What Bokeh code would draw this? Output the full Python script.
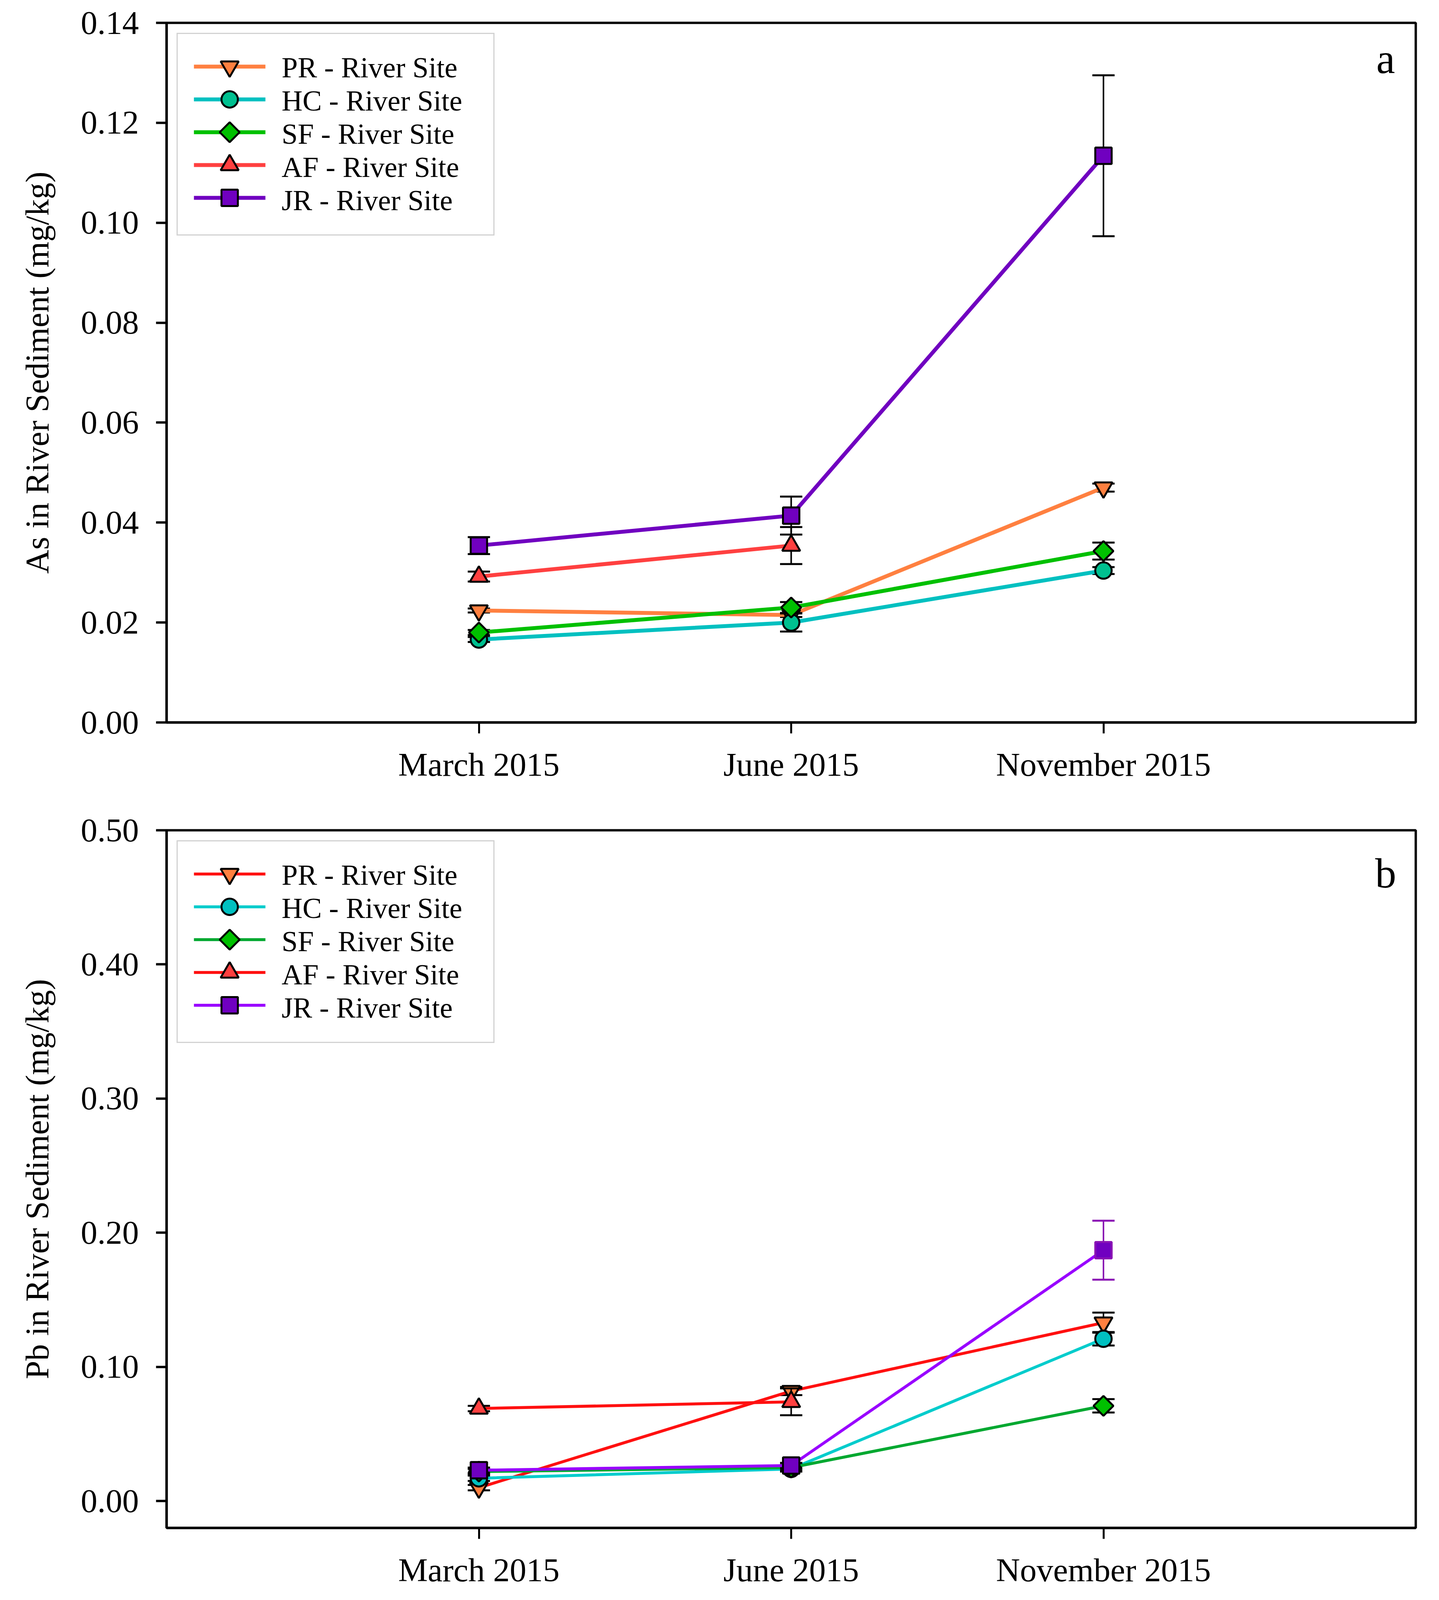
import math
from bokeh.plotting import figure
from bokeh.models import (Range1d, FixedTicker, PrintfTickFormatter, Label,
                          Legend, LegendItem, ColumnDataSource)
from bokeh.layouts import column
from bokeh.embed import file_html
from bokeh.resources import INLINE

# ---------------- data ----------------
dates = ["March 2015", "June 2015", "November 2015"]
date_pos = [1, 2, 3]
site_labels = ["PR - River Site", "HC - River Site", "SF - River Site",
               "AF - River Site", "JR - River Site"]

# As in river sediment (mg/kg), mean and error
as_pr = [0.0224, 0.0215, 0.0470]
as_pr_err = [0.0004, 0.0004, 0.0008]
as_hc = [0.0166, 0.0200, 0.0304]
as_hc_err = [0.0005, 0.0018, 0.0007]
as_sf = [0.0180, 0.0230, 0.0343]
as_sf_err = [0.0005, 0.0011, 0.0017]
as_af = [0.0292, 0.0354]
as_af_err = [0.0010, 0.0037]
as_jr = [0.0354, 0.0414, 0.1134]
as_jr_err = [0.0017, 0.0038, 0.0161]

# Pb in river sediment (mg/kg), mean and error
pb_pr = [0.010, 0.082, 0.133]
pb_pr_err = [0.002, 0.003, 0.0075]
pb_hc = [0.017, 0.024, 0.121]
pb_hc_err = [0.002, 0.002, 0.005]
pb_sf = [0.022, 0.025, 0.071]
pb_sf_err = [0.002, 0.002, 0.005]
pb_af = [0.069, 0.074]
pb_af_err = [0.002, 0.010]
pb_jr = [0.023, 0.0265, 0.187]
pb_jr_err = [0.002, 0.002, 0.022]

as_ticks = [0.00, 0.02, 0.04, 0.06, 0.08, 0.10, 0.12, 0.14]
pb_ticks = [0.00, 0.10, 0.20, 0.30, 0.40, 0.50]

FONT = "Liberation Serif"
FRAME_W = 3198

# legend geometry (screen px)
LEG_MARGIN = 26
LEG_PAD = 44
LEG_ROW = 84
LEG_GLYPH_W = 183


def make_panel(series, y_lo, y_hi, ticks, frame_h, b_top, b_bottom, ylabel,
               letter, letter_dy, line_w):
    p = figure(frame_width=FRAME_W, frame_height=frame_h,
               x_range=Range1d(0, 4), y_range=Range1d(y_lo, y_hi),
               output_backend="svg", toolbar_location=None,
               min_border_left=426, min_border_right=44,
               min_border_top=b_top, min_border_bottom=b_bottom,
               background_fill_color="white", border_fill_color="white")
    p.xgrid.visible = False
    p.ygrid.visible = False
    p.outline_line_color = "black"
    p.outline_line_width = 6
    p.outline_line_alpha = 1

    # x axis
    p.xaxis.ticker = FixedTicker(ticks=date_pos)
    p.xaxis.major_label_overrides = {pos: d for pos, d in zip(date_pos, dates)}
    p.xaxis.axis_line_width = 6
    p.xaxis.major_tick_line_width = 5
    p.xaxis.major_tick_out = 28
    p.xaxis.major_tick_in = 0
    p.xaxis.minor_tick_line_color = None
    p.xaxis.major_label_text_font = FONT
    p.xaxis.major_label_text_font_size = "85px"
    p.xaxis.major_label_text_color = "black"
    p.xaxis.major_label_standoff = 32

    # y axis
    p.yaxis.ticker = FixedTicker(ticks=ticks)
    p.yaxis.formatter = PrintfTickFormatter(format="%.2f")
    p.yaxis.axis_line_width = 6
    p.yaxis.major_tick_line_width = 6
    p.yaxis.major_tick_out = 27
    p.yaxis.major_tick_in = 0
    p.yaxis.minor_tick_line_color = None
    p.yaxis.major_label_text_font = FONT
    p.yaxis.major_label_text_font_size = "85px"
    p.yaxis.major_label_text_color = "black"
    p.yaxis.major_label_standoff = 44
    p.yaxis.axis_label = ylabel
    p.yaxis.axis_label_text_font = FONT
    p.yaxis.axis_label_text_font_size = "85px"
    p.yaxis.axis_label_text_font_style = "normal"
    p.yaxis.axis_label_text_color = "black"
    p.yaxis.axis_label_standoff = 62

    px_per_x = FRAME_W / 4.0
    px_per_y = frame_h / (y_hi - y_lo)

    # invisible stand-in so legend rows carry only their labels; the row
    # symbols (line + full-size marker) are drawn below as glyphs
    blank = p.scatter(x=[float("nan")], y=[float("nan")], size=1,
                      fill_alpha=0, line_alpha=0)

    items = []
    for i, s in enumerate(series):
        n = len(s["vals"])
        xs = date_pos[:n]
        src = ColumnDataSource(dict(
            x=xs, y=s["vals"],
            lo=[v - e for v, e in zip(s["vals"], s["errs"])],
            hi=[v + e for v, e in zip(s["vals"], s["errs"])],
            ec=s["edge"][:n], rc=s["errc"][:n]))
        p.segment(x0="x", y0="lo", x1="x", y1="hi", source=src,
                  line_color="rc", line_width=4)
        p.scatter(x="x", y="hi", marker="dash", size=57, line_color="rc",
                  line_width=5, source=src)
        p.scatter(x="x", y="lo", marker="dash", size=57, line_color="rc",
                  line_width=5, source=src)
        p.line(x="x", y="y", source=src, line_color=s["line"],
               line_width=line_w)
        p.scatter(x="x", y="y", source=src, marker=s["marker"],
                  size=s["size"], angle=s["angle"], fill_color=s["fill"],
                  line_color="ec", line_width=5)
        items.append(LegendItem(label=s["label"], renderers=[blank]))

        # legend row symbol
        lx0 = (LEG_MARGIN + LEG_PAD) / px_per_x
        lx1 = (LEG_MARGIN + LEG_PAD + LEG_GLYPH_W) / px_per_x
        ly = y_hi - (LEG_MARGIN + LEG_PAD + LEG_ROW / 2.0 + i * LEG_ROW) / px_per_y
        p.segment(x0=[lx0], y0=[ly], x1=[lx1], y1=[ly], line_color=s["line"],
                  line_width=line_w)
        p.scatter(x=[(lx0 + lx1) / 2.0], y=[ly], marker=s["marker"],
                  size=s["size"], angle=s["angle"], fill_color=s["fill"],
                  line_color="black", line_width=5)

    legend = Legend(items=items, location="top_left")
    legend.margin = LEG_MARGIN
    legend.padding = LEG_PAD
    legend.spacing = 0
    legend.glyph_height = LEG_ROW
    legend.glyph_width = LEG_GLYPH_W
    legend.label_height = LEG_ROW
    legend.label_width = 498
    legend.label_standoff = 39
    legend.label_text_font = FONT
    legend.label_text_font_size = "74px"
    legend.label_text_color = "black"
    legend.border_line_color = "#a6a6a6"
    legend.border_line_width = 3
    legend.background_fill_alpha = 0
    p.add_layout(legend)

    p.add_layout(Label(x=4 - 77 / px_per_x, y=y_hi - letter_dy / px_per_y,
                       text=letter, text_font=FONT, text_font_size="108px",
                       text_align="center", text_baseline="alphabetic",
                       text_color="black"))
    return p


def site(label, vals, errs, line, fill, marker, size, angle=0.0, edge=None,
         errc=None):
    return dict(label=label, vals=vals, errs=errs, line=line, fill=fill,
                marker=marker, size=size, angle=angle,
                edge=edge or ["black"] * 3, errc=errc or ["black"] * 3)


series_a = [
    site(site_labels[0], as_pr, as_pr_err, "#ff8040", "#ff8040", "inverted_triangle", 46),
    site(site_labels[1], as_hc, as_hc_err, "#00c0c0", "#00c090", "circle", 42),
    site(site_labels[2], as_sf, as_sf_err, "#00c000", "#00c000", "square", 36,
         angle=math.pi / 4),
    site(site_labels[3], as_af, as_af_err, "#ff4040", "#ff4040", "triangle", 46),
    site(site_labels[4], as_jr, as_jr_err, "#7000c0", "#7000c0", "square", 42),
]

series_b = [
    site(site_labels[0], pb_pr, pb_pr_err, "#ff1010", "#ff8040", "inverted_triangle", 46),
    site(site_labels[1], pb_hc, pb_hc_err, "#00cccc", "#00c0c0", "circle", 42),
    site(site_labels[2], pb_sf, pb_sf_err, "#00a830", "#00c000", "square", 36,
         angle=math.pi / 4),
    site(site_labels[3], pb_af, pb_af_err, "#ff1010", "#ff4040", "triangle", 46),
    site(site_labels[4], pb_jr, pb_jr_err, "#9900ff", "#7000c0", "square", 42,
         edge=["black", "black", "#8a14b4"], errc=["black", "black", "#8a14b4"]),
]

pa = make_panel(series_a, 0.0, 0.14, as_ticks, 1791, 58, 213,
                "As in River Sediment (mg/kg)", "a", 92, 10)
pb = make_panel(series_b, -0.02, 0.50, pb_ticks, 1786, 63, 150,
                "Pb in River Sediment (mg/kg)", "b", 110, 7.5)

layout = column(pa, pb, spacing=0)
open("out.html", "w").write(file_html(layout, INLINE))
